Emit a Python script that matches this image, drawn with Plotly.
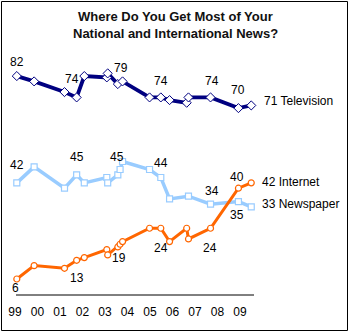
import plotly.graph_objects as go

# Survey dates as fractional years
dates = [1999.08, 1999.85, 2001.20, 2001.74, 2002.08, 2003.08, 2003.12, 2003.57,
         2003.67, 2003.78, 2004.98, 2005.48, 2005.87, 2006.63, 2006.71, 2007.69,
         2008.93, 2009.50]
television = [82, 80, 76, 74, 82, 81.5, 83, 79, None, 80, 74, 74, 73, 72, 74, 74, 70, 71]
newspaper = [42, 48, 40, 45, 42, 44, 42, 45, 47, 50, 47, 44, 36, None, 37, 34, 35, 33]
internet = [6, 11, 10, 13, 14, 17, 15, 18, 19, 20, 25, 25, 20, 25, 21, 25, 40, 42]

year_ticks = list(range(1999, 2010))
year_labels = ["99", "00", "01", "02", "03", "04", "05", "06", "07", "08", "09"]

title_lines = ["Where Do You Get Most of Your", "National and International News?"]

FONT = "Liberation Sans, Arial, sans-serif"
NAVY = "#000080"
LIGHT = "#99CCFF"
ORANGE = "#FF6600"

W, H = 351, 333
L, R, T, B = 0, 97, 0, 38
PW, PH = W - L - R, H - T - B


def px(x):
    return (x - L) / PW


def py(y):
    return (H - B - y) / PH


fig = go.Figure()

fig.add_trace(go.Scatter(
    x=dates, y=newspaper, mode="lines+markers", connectgaps=True, cliponaxis=False,
    line=dict(color=LIGHT, width=3.5),
    marker=dict(symbol="square", size=6, color="white", line=dict(color=LIGHT, width=1.2)),
    name="Newspaper"))
fig.add_trace(go.Scatter(
    x=dates, y=television, mode="lines+markers", connectgaps=True, cliponaxis=False,
    line=dict(color=NAVY, width=3.8),
    marker=dict(symbol="diamond", size=7, color="white", line=dict(color=NAVY, width=1)),
    name="Television"))
fig.add_trace(go.Scatter(
    x=dates, y=internet, mode="lines+markers", connectgaps=True, cliponaxis=False,
    line=dict(color=ORANGE, width=3),
    marker=dict(symbol="circle", size=6, color="white", line=dict(color=ORANGE, width=1.2)),
    name="Internet"))

# value labels (text, pixel x, pixel y, anchor)
labels = [
    ("82", 16.7, 62, "center"), ("74", 71.7, 79, "center"), ("79", 121, 68, "center"),
    ("74", 160.7, 80.7, "center"), ("74", 211.5, 80.7, "center"), ("70", 237.7, 90, "center"),
    ("71 Television", 261.5, 101, "left"),
    ("42", 17, 165, "center"), ("45", 77, 157, "center"), ("45", 117, 157, "center"),
    ("44", 160.7, 162.7, "center"), ("34", 211.7, 190.7, "center"), ("35", 237, 215, "center"),
    ("33 Newspaper", 260, 204, "left"),
    ("40", 236.5, 177.5, "center"), ("42 Internet", 260, 181.7, "left"),
    ("6", 15.3, 288, "center"), ("13", 77, 278, "center"), ("19", 119, 258.3, "center"),
    ("24", 160.5, 248, "center"), ("24", 210, 248, "center"),
]
for text, x, y, anchor in labels:
    fig.add_annotation(x=px(x), y=py(y), xref="paper", yref="paper", text=text,
                       showarrow=False, xanchor=anchor, yanchor="middle",
                       font=dict(family=FONT, size=12, color="black"))

for i, line in enumerate(title_lines):
    fig.add_annotation(x=px(175), y=py(17 + 16 * i), xref="paper", yref="paper",
                       text="<b>" + line + "</b>", showarrow=False,
                       xanchor="center", yanchor="middle",
                       font=dict(family=FONT, size=13, color="#111111"))

# baseline under the chart
fig.add_shape(type="line", xref="paper", yref="paper",
              x0=px(16), x1=px(254), y0=0, y1=0,
              line=dict(color="black", width=1))

# outer frame
fig.add_shape(type="rect", xref="paper", yref="paper",
              x0=px(1.5), x1=px(347.5), y0=py(330.5), y1=py(1.5),
              line=dict(color="black", width=1))

fig.update_layout(
    width=W, height=H, autosize=False,
    margin=dict(l=L, r=R, t=T, b=B),
    paper_bgcolor="white", plot_bgcolor="white",
    showlegend=False,
    xaxis=dict(range=[1999 + (L - 15) / 22.5, 1999 + (W - R - 15) / 22.5],
               tickvals=year_ticks, ticktext=year_labels, showgrid=False, zeroline=False,
               showline=False, ticks="",
               tickfont=dict(family=FONT, size=12, color="black"), ticklabelstandoff=8),
    yaxis=dict(range=[0, PH / 2.67], visible=False, showgrid=False, zeroline=False),
)

fig.write_html("out.html")
